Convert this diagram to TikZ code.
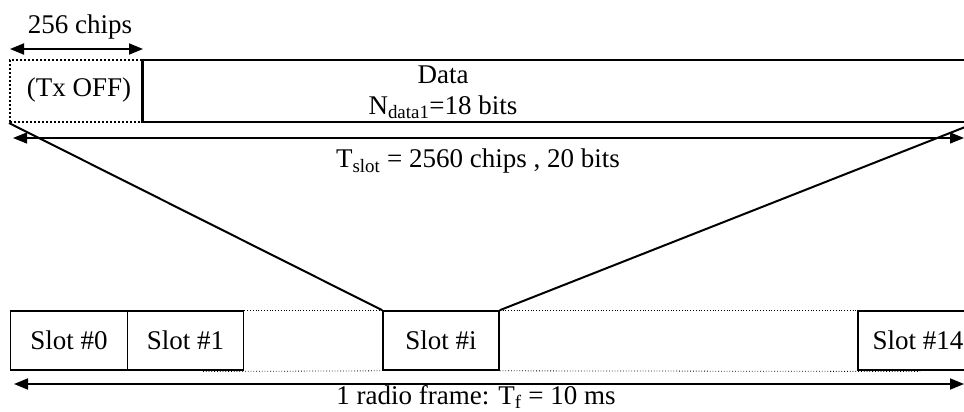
\documentclass[tikz,border=0pt]{standalone}
\usepackage{fontspec}
\setmainfont{Liberation Serif}
\usetikzlibrary{arrows.meta}
\begin{document}
\begin{tikzpicture}[x=1pt,y=-1pt,
  every node/.style={font=\fontsize{27}{31}\selectfont, inner sep=0pt},
  solidbox/.style={draw, line width=1.6pt, rectangle},
  dotbox/.style={draw, line width=2pt, dotted, rectangle},
  thindot/.style={line width=0.8pt, dotted},
  dimarrow/.style={line width=1.8pt, {Triangle[length=14pt,width=11pt]}-{Triangle[length=14pt,width=11pt]}},
  slant/.style={line width=2pt},
  lbl/.style={}]
\useasboundingbox (0,0) rectangle (964,412);
% top slot structure
\node[solidbox, minimum width=832pt, minimum height=62pt] (data) at (559,91) {};
\node[dotbox, minimum width=133pt, minimum height=62pt] (tx) at (76.5,91) {};
\draw[line width=1.6pt] (data.north west) -- (data.south west);
\node[lbl] (txl) at (79,90) {(Tx OFF)};
\node[lbl] (datal) at (443,75) {Data};
\node[lbl] (ndata) at (443,107) {N\textsubscript{data1}=18 bits};
\node[lbl] (chips) at (80,27) {256 chips};
\coordinate (c1) at (10,49);
\coordinate (c2) at (143,49);
\draw[dimarrow] (c1) -- (c2);
\coordinate (s1) at (13,138);
\coordinate (s2) at (964,138);
\draw[line width=1.2pt, {Triangle[length=14pt,width=11pt]}-{Triangle[length=14pt,width=11pt]}] (s1) -- (s2);
\node[lbl] (tslot) at (478,161) {T\textsubscript{slot} = 2560 chips , 20 bits};
% bottom frame
\node[solidbox, minimum width=117pt, minimum height=59pt] (slot0) at (69,340.5) {Slot \#0};
\node[solidbox, minimum width=116pt, minimum height=59pt] (slot1) at (185.5,340.5) {Slot \#1};
\node[solidbox, minimum width=116pt, minimum height=59pt] (sloti) at (441,340.5) {Slot \#i};
\node[solidbox, minimum width=117pt, minimum height=59pt] (slot14) at (916.5,340.5) {};
\node[lbl] (slot14l) at (918,340.5) {Slot \#14};
\draw[thindot] (slot1.north east) -- (sloti.north west);
\draw[thindot] (sloti.north east) -- (slot14.north west);
\coordinate (b1) at (203,371.5);
\coordinate (b2) at (920,371.5);
\draw[thindot] (b1) -- (sloti.south west);
\draw[thindot] (sloti.south east) -- (b2);
\draw[slant] (tx.south west) -- (sloti.north west);
\draw[slant] (data.south east) -- (sloti.north east);
\coordinate (f1) at (14,384);
\coordinate (f2) at (964,384);
\draw[dimarrow] (f1) -- (f2);
\node[lbl] (frame) at (476,397) {1 radio frame: T\textsubscript{f} = 10 ms};
\end{tikzpicture}
\end{document}
